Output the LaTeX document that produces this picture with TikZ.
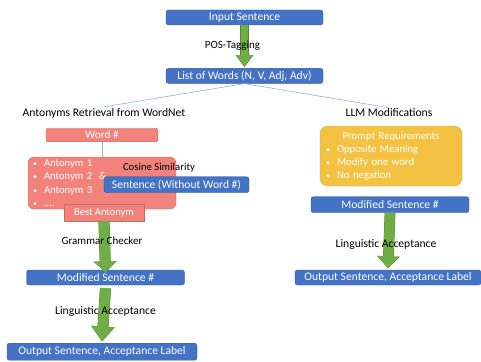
\documentclass[tikz,border=0pt]{standalone}
\usepackage{fontspec}
\setmainfont{Carlito}
\usetikzlibrary{arrows.meta, positioning}

\definecolor{boxblue}{RGB}{68,114,196}
\definecolor{blueedge}{RGB}{52,90,160}
\definecolor{boxred}{RGB}{241,131,124}
\definecolor{rededge}{RGB}{205,105,98}
\definecolor{boxyellow}{RGB}{244,194,67}
\definecolor{yellowedge}{RGB}{222,170,45}
\definecolor{arrowgreen}{RGB}{112,173,71}
\definecolor{arrowedge}{RGB}{84,134,52}
\definecolor{branchblue}{RGB}{150,176,222}

\newcommand{\itm}{\makebox[11pt][l]{\footnotesize\textbullet}}

\begin{document}
\begin{tikzpicture}[x=1pt, y=-1pt,
        bluebox/.style = {
            rectangle,
            draw=blueedge,
            fill=boxblue,
            rounded corners=2.5pt,
            text=white,
            font=\fontsize{11.6}{13}\selectfont,
            inner sep=1pt,
            minimum height=15pt
        },
        redbox/.style = {
            rectangle,
            draw=rededge,
            fill=boxred,
            rounded corners=1.5pt,
            text=white,
            font=\fontsize{11.4}{13}\selectfont,
            inner sep=1pt,
            minimum height=13.5pt
        },
        yellowbox/.style = {
            rectangle,
            draw=yellowedge,
            fill=boxyellow,
            rounded corners=8pt,
            text=white,
            inner sep=0pt
        },
        lbl/.style = {font=\fontsize{11}{13}\selectfont, inner sep=1pt},
        head/.style = {font=\fontsize{11.6}{13}\selectfont, inner sep=1pt},
        branch/.style = {draw=branchblue, line width=0.6pt},
        fatarrow/.style 2 args = {
            draw=arrowgreen,
            line width=#1,
            -{Triangle[length=#2, width=0pt 2.05]},
            preaction={draw=arrowedge, line width=#1+0.8pt}}  ]

        \useasboundingbox (0,0) rectangle (481,361);

        \node (input) [bluebox, minimum width=157pt] at (244.5,17.5) {Input Sentence};
        \node (words) [bluebox, minimum width=157pt, below=43pt of input] {List of Words (N, V, Adj, Adv)};

        \node (antonyms) [head] at (104,113) {Antonyms Retrieval from WordNet};
        \node (llm) [head] at (389,113) {LLM Modifications};

        % left branch
        \node (word) [redbox, minimum width=112pt] at (102,135) {Word \#};
        \node (candidates) [redbox, rounded corners=6pt, minimum width=148pt, minimum height=52pt,
            text width=138pt, align=left, inner sep=0pt, font=\fontsize{10.6}{13.5}\selectfont] at (102,183)
            {\itm Antonym 1\\ \itm Antonym 2 \ \&\\ \itm Antonym 3\\ \itm ....};
        \node (cosine) [lbl, font=\fontsize{10.7}{13}\selectfont] at (159,167.7) {Cosine Similarity};
        \node (sentence) [bluebox, minimum width=145pt, minimum height=16pt] at (176.5,184.7) {Sentence (Without Word \#)};
        \node (best) [redbox, rounded corners=0pt, minimum width=80pt, minimum height=17pt,
            font=\fontsize{10.5}{13}\selectfont] at (104,212.5) {Best Antonym};
        \node (modleft) [bluebox, minimum width=158pt] at (105.5,277.5) {Modified Sentence \#};
        \node (outleft) [bluebox, minimum width=190pt, minimum height=17pt] at (102,351.7) {Output Sentence, Acceptance Label};

        % right branch
        \node (prompt) [yellowbox, minimum width=142pt, minimum height=60pt, text width=130pt, align=left,
            font=\fontsize{10.7}{12.9}\selectfont] at (391,156)
            {\makebox[130pt]{Prompt Requirements}\\ \itm Opposite Meaning\\ \itm Modify one word\\ \itm No negation};
        \node (modright) [bluebox, minimum width=158pt, minimum height=16pt] at (390,204.7) {Modified Sentence \#};
        \node (outright) [bluebox, minimum width=186pt] at (388,277.5) {Output Sentence, Acceptance Label};

        \draw[branch] (words.south) -- (antonyms.north);
        \draw[branch] (words.south) -- (llm.north);
        \draw[branch] (word.south) -- (candidates.north);

        \draw[fatarrow={7.5pt}{12pt}] (input.south) -- ([yshift=1pt]words.north);
        \draw[fatarrow={10.4pt}{11pt}] (best.south) -- ([yshift=-2.5pt]modleft.north);
        \draw[fatarrow={10.4pt}{15pt}] ([yshift=-3pt]modleft.south) -- ([yshift=1.5pt]outleft.north);
        \draw[fatarrow={10pt}{12pt}] (modright.south) -- ([yshift=1.5pt]outright.north);

        \node (postag) [lbl] at (232.5,46) {POS-Tagging};
        \node (grammar) [lbl] at (102,240.7) {Grammar Checker};
        \node (acceptleft) [lbl, font=\fontsize{11.6}{13}\selectfont] at (105.5,311) {Linguistic Acceptance};
        \node (acceptright) [lbl, font=\fontsize{11.6}{13}\selectfont] at (386,244.3) {Linguistic Acceptance};
    \end{tikzpicture}
\end{document}
